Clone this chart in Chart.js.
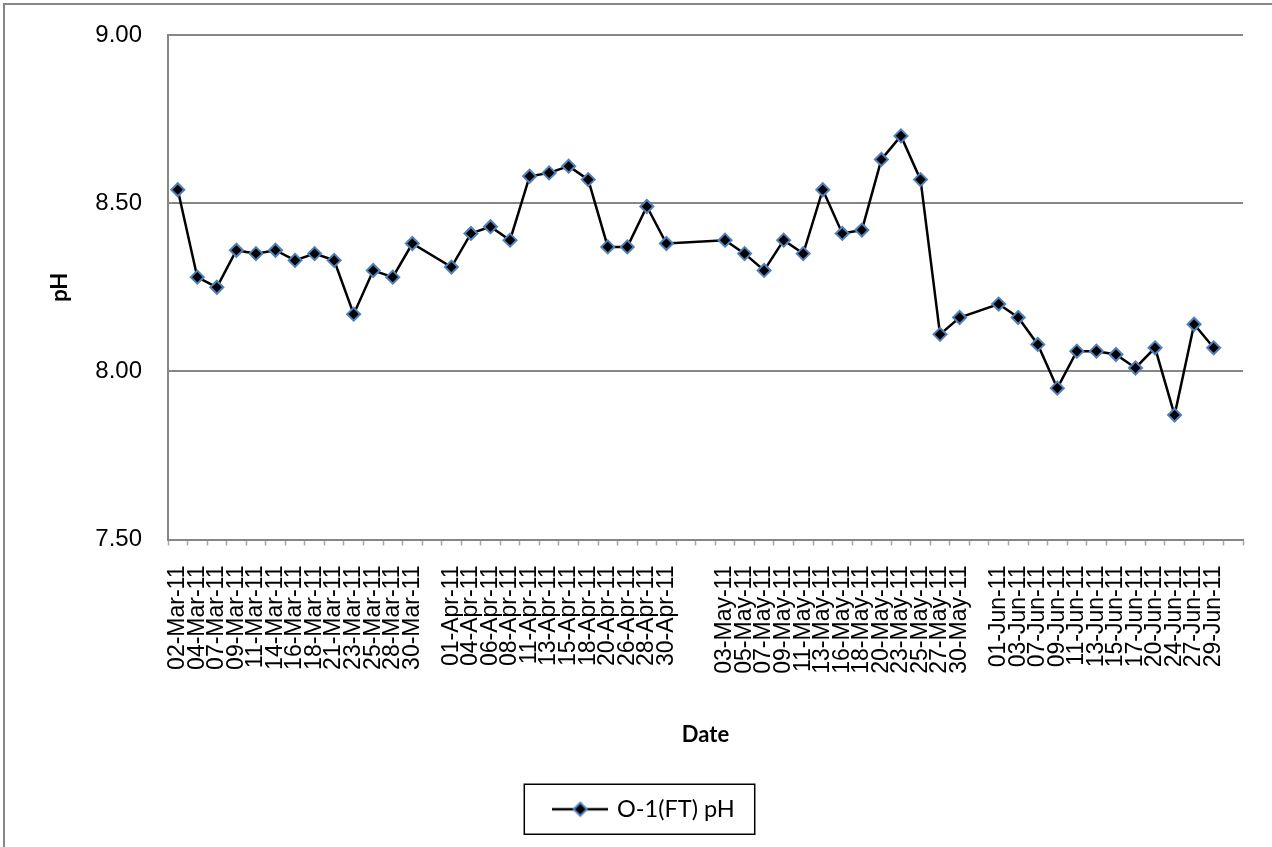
<!DOCTYPE html>
<html>
<head>
<meta charset="utf-8">
<script src="https://cdn.jsdelivr.net/npm/chart.js@4.4.1/dist/chart.umd.min.js"></script>
<style>
  html, body { margin: 0; padding: 0; background: #fff; }
  #wrap { position: relative; width: 1272px; height: 847px; overflow: hidden; }
  #frame { position: absolute; left: 3px; top: 3px; right: -10px; bottom: -10px;
           border-top: 2px solid #868686; border-left: 2px solid #868686; }
  #phChart { position: absolute; left: 0; top: 0; }
</style>
</head>
<body>
<div id="wrap">
  <div id="frame"></div>
  <canvas id="phChart" width="1272" height="847"></canvas>
</div>
<script>
// Sampling dates per month (dd)
const marDays = ["02", "04", "07", "09", "11", "14", "16", "18", "21", "23", "25", "28", "30"];
const aprDays = ["01", "04", "06", "08", "11", "13", "15", "18", "20", "26", "28", "30"];
const mayDays = ["03", "05", "07", "09", "11", "13", "16", "18", "20", "23", "25", "27", "30"];
const junDays = ["01", "03", "07", "09", "11", "13", "15", "17", "20", "24", "27", "29"];

// pH readings, O-1(FT)
const marPH = [8.54, 8.28, 8.25, 8.36, 8.35, 8.36, 8.33, 8.35, 8.33, 8.17, 8.30, 8.28, 8.38];
const aprPH = [8.31, 8.41, 8.43, 8.39, 8.58, 8.59, 8.61, 8.57, 8.37, 8.37, 8.49, 8.38];
const mayPH = [8.39, 8.35, 8.30, 8.39, 8.35, 8.54, 8.41, 8.42, 8.63, 8.70, 8.57, 8.11, 8.16];
const junPH = [8.20, 8.16, 8.08, 7.95, 8.06, 8.06, 8.05, 8.01, 8.07, 7.87, 8.14, 8.07];

// blank categories that follow each month on the axis
const gapsAfter = [1, 2, 1, 1];

const yTicks = [7.5, 8.0, 8.5, 9.0];
const seriesName = "O-1(FT) pH";

// build the category axis (blank slots stay empty)
const labels = [];
const values = [];
[[marDays, marPH, "Mar"], [aprDays, aprPH, "Apr"], [mayDays, mayPH, "May"], [junDays, junPH, "Jun"]]
  .forEach(([days, ph, mon], i) => {
    days.forEach((d, j) => {
      labels.push(`${d}-${mon}-11`);
      values.push(ph[j]);
    });
    for (let k = 0; k < gapsAfter[i]; k++) {
      labels.push("");
      values.push(null);
    }
  });

// legend icon: line with diamond marker
function legendIcon() {
  const c = document.createElement("canvas");
  c.width = 56;
  c.height = 18;
  const g = c.getContext("2d");
  g.strokeStyle = "#000";
  g.lineWidth = 2.5;
  g.beginPath();
  g.moveTo(0, 9);
  g.lineTo(56, 9);
  g.stroke();
  g.beginPath();
  g.moveTo(28, 2.5);
  g.lineTo(34.5, 9);
  g.lineTo(28, 15.5);
  g.lineTo(21.5, 9);
  g.closePath();
  g.fillStyle = "#000";
  g.fill();
  g.strokeStyle = "#4f81bd";
  g.lineWidth = 2;
  g.stroke();
  return c;
}

// box around the legend
const legendBorder = {
  id: "legendBorder",
  afterDraw(chart) {
    const hb = chart.legend.legendHitBoxes[0];
    if (!hb) return;
    const ctx = chart.ctx;
    const cy = hb.top + hb.height / 2;
    ctx.save();
    ctx.strokeStyle = "#000";
    ctx.lineWidth = 1.5;
    ctx.strokeRect(hb.left - 31, cy - 25, hb.width + 51, 50);
    ctx.restore();
  }
};

new Chart(document.getElementById("phChart"), {
  type: "line",
  data: {
    labels: labels,
    datasets: [{
      label: seriesName,
      data: values,
      borderColor: "#000",
      borderWidth: 2.5,
      tension: 0,
      spanGaps: true,
      pointStyle: "rectRot",
      pointRadius: 6.5,
      pointHoverRadius: 6.5,
      pointBackgroundColor: "#000",
      pointBorderColor: "#4f81bd",
      pointBorderWidth: 2
    }]
  },
  options: {
    responsive: false,
    animation: false,
    layout: {
      padding: { top: 35, right: 29, left: 47, bottom: 16 }
    },
    plugins: {
      tooltip: { enabled: false },
      legend: {
        position: "bottom",
        labels: {
          usePointStyle: true,
          pointStyle: legendIcon(),
          pointStyleWidth: 50,
          padding: 49,
          color: "#000",
          font: { family: "Lato", size: 23.5 }
        }
      }
    },
    scales: {
      x: {
        type: "category",
        offset: true,
        grid: {
          offset: true,
          drawOnChartArea: false,
          drawTicks: true,
          tickLength: 6,
          tickColor: "#a6a6a6",
          tickWidth: 1.5
        },
        border: { color: "#868686", width: 2 },
        ticks: {
          autoSkip: false,
          minRotation: 90,
          maxRotation: 90,
          padding: 20,
          color: "#000",
          font: { family: "Liberation Sans", size: 23 }
        },
        title: {
          display: true,
          text: "Date",
          color: "#000",
          padding: 0,
          font: { family: "Lato", size: 22, weight: "bold" }
        },
        afterFit(scale) {
          scale.height = 209;
          scale.paddingLeft = 0;
          scale.paddingRight = 0;
        }
      },
      y: {
        min: 7.5,
        max: 9.0,
        afterBuildTicks(scale) { scale.ticks = yTicks.map(v => ({ value: v })); },
        grid: { color: "#868686", lineWidth: 2, drawTicks: false },
        border: { color: "#868686", width: 2 },
        ticks: {
          padding: 26,
          color: "#000",
          font: { family: "Liberation Sans", size: 24 },
          callback: v => Number(v).toFixed(2)
        },
        title: {
          display: true,
          text: "pH",
          color: "#000",
          padding: 0,
          font: { family: "Lato", size: 22, weight: "bold" }
        },
        afterFit(scale) {
          scale.width = 121;
          scale.paddingTop = 0;
          scale.paddingBottom = 0;
        }
      }
    }
  },
  plugins: [legendBorder]
});
</script>
</body>
</html>
